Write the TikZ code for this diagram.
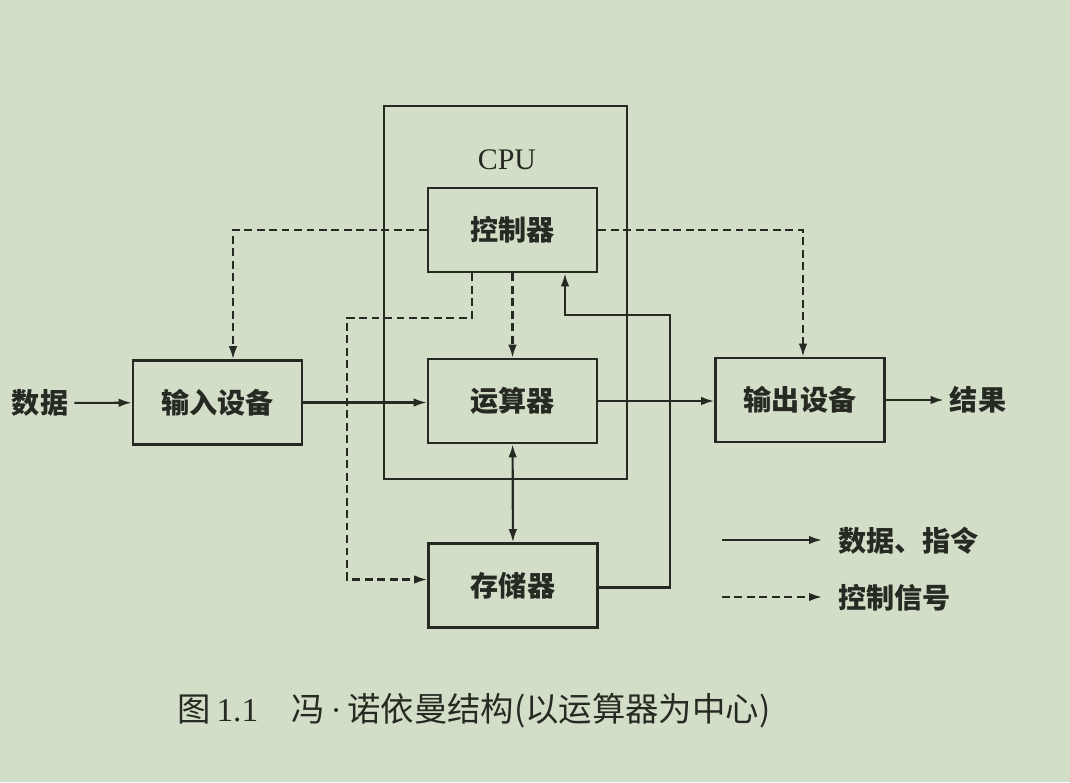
\documentclass[tikz,border=0pt]{standalone}
\usepackage{fontspec}
\setmainfont{Liberation Serif}
\newfontfamily\cjk{Noto Sans CJK SC}
\usetikzlibrary{positioning,arrows.meta,calc}
\definecolor{fondo}{RGB}{211,222,201}
\definecolor{tinta}{RGB}{38,42,34}

\begin{document}
\begin{tikzpicture}[x=0.02cm, y=-0.02cm,
  bloque/.style={draw=tinta, line width=1.5pt, minimum width=3.38cm, minimum height=1.68cm,
    font=\cjk\bfseries\fontsize{16}{18}\selectfont, text=tinta},
  flujo/.style={draw=tinta, line width=1.2pt, -{Latex[length=2.6mm,width=1.7mm]}},
  ambos/.style={flujo, {Latex[length=2.6mm,width=1.7mm]}-{Latex[length=2.6mm,width=1.7mm]}},
  senal/.style={flujo, dash pattern=on 4.5pt off 2.6pt},
  etq/.style={font=\cjk\bfseries\fontsize{16}{18}\selectfont, text=tinta}
]
\fill[fondo] (0,0) rectangle (1070,782);
% CPU
\draw[tinta, line width=1.4pt] (384,106) rectangle (627,479);
\node[font=\fontsize{17}{20}\selectfont, text=tinta] (cpu) at (507,160) {CPU};
\node[bloque] (ctl) at (512.5,230) {控制器};
\node[bloque] (alu) at (512.5,401) {运算器};
\node[bloque] (mem) at (513,585.5) {存储器};
% E/S
\node[bloque] (ent) at (217.5,402.5) {输入设备};
\node[bloque] (sal) at (800,400) {输出设备};
\node[etq] (dat) at (40,403) {数据};
\node[etq] (res) at (978,400) {结果};
% datos e instrucciones
\draw[flujo] (dat) -- (ent);
\draw[flujo] (ent.east) -- (ent.east -| alu.west);
\draw[flujo] (alu.east) -- (alu.east -| sal.west);
\draw[flujo] (sal) -- (res);
\draw[ambos] (alu) -- (mem);
\coordinate (vuelta) at (670,315);
\draw[flujo] ($(mem.east)+(0,2)$) -| (vuelta) -| ($(ctl.south)+(52.5,0)$);
% control
\draw[senal] (ctl.west) -| ($(ent.north)+(15.5,0)$);
\draw[senal] (ctl.east) -| ($(sal.north)+(3,0)$);
\draw[senal] (ctl) -- (alu);
\coordinate (giro) at (347,318);
\draw[senal] ($(ctl.south)+(-40.5,0)$) |- (giro) |- ($(mem.west)+(0,-6)$);
% leyenda
\coordinate (l1) at (722,540);
\coordinate (l2) at (722,597);
\node[etq, anchor=west] (l1t) at (832,541) {数据、指令};
\node[etq, anchor=west] (l2t) at (832,598) {控制信号};
\draw[flujo, shorten >=0.2cm] (l1) -- (l1 -| l1t.west);
\draw[senal, shorten >=0.2cm] (l2) -- (l2 -| l2t.west);
% pie
\node[font=\cjk\fontsize{19}{22}\selectfont, text=tinta] (pie) at (474,711)
  {图\,{\rmfamily 1.1}\quad 冯{\rmfamily\,·\,}诺依曼结构(以运算器为中心)};
\end{tikzpicture}
\end{document}
